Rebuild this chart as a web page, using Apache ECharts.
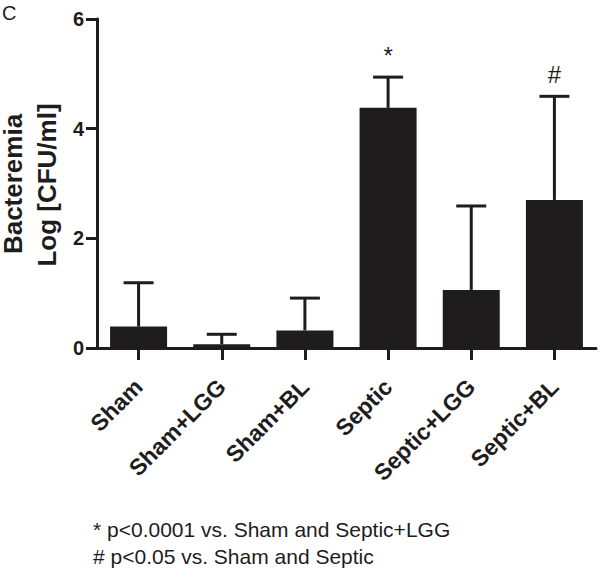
<!DOCTYPE html>
<html><head><meta charset="utf-8">
<script src="https://cdn.jsdelivr.net/npm/echarts@6/dist/echarts.min.js"></script>
<style>html,body{margin:0;padding:0;background:#fff}#c{width:600px;height:573px}</style>
</head><body><div id="c"></div>
<script>
const categories = ['Sham','Sham+LGG','Sham+BL','Septic','Septic+LGG','Septic+BL'];
const means = [0.39, 0.07, 0.32, 4.38, 1.06, 2.70];
const errTop = [1.19, 0.25, 0.91, 4.94, 2.59, 4.59];
const marks = ['', '', '', '*', '', '#'];
const yTicks = [0, 2, 4, 6];

const ink = '#1e1c1d';
const font = 'Liberation Sans, Arial, sans-serif';
const chart = echarts.init(document.getElementById('c'), null, {renderer:'svg'});
chart.setOption({
  animation: false,
  backgroundColor: '#fff',
  grid: {left: 97, right: 4, top: 19, bottom: 225, containLabel: false},
  xAxis: {
    type: 'category', data: categories,
    axisLine: {show: true, lineStyle: {color: ink, width: 3}},
    axisTick: {show: true, alignWithLabel: true, length: 12, lineStyle: {color: ink, width: 3}},
    axisLabel: {rotate: 45, color: ink, fontWeight: 'bold', fontSize: 23, fontFamily: font, margin: 35, interval: 0}
  },
  yAxis: {
    type: 'value', min: yTicks[0], max: yTicks[yTicks.length-1], interval: 2,
    splitLine: {show: false},
    axisLine: {show: true, lineStyle: {color: ink, width: 3}},
    axisTick: {show: true, length: 11, lineStyle: {color: ink, width: 3}},
    axisLabel: {color: ink, fontWeight: 'bold', fontSize: 20, fontFamily: font, margin: 13}
  },
  series: [
    {
      type: 'bar', data: means, barWidth: 57, z: 2,
      itemStyle: {color: ink}
    },
    {
      type: 'custom', z: 1, silent: true,
      data: categories.map((c, i) => [i, means[i], errTop[i]]),
      renderItem: function(params, api) {
        const base = api.coord([api.value(0), api.value(1)]);
        const top = api.coord([api.value(0), api.value(2)]);
        const x = base[0];
        const children = [
          {type: 'line', shape: {x1: x, y1: base[1], x2: x, y2: top[1]}, style: {stroke: ink, lineWidth: 3}},
          {type: 'line', shape: {x1: x - 15, y1: top[1], x2: x + 15, y2: top[1]}, style: {stroke: ink, lineWidth: 3}}
        ];
        const m = marks[params.dataIndex];
        if (m) {
          children.push({type: 'text', style: {text: m, x: x, y: top[1] - 10, textAlign: 'center', textVerticalAlign: 'bottom', fontSize: 24, fontFamily: font, fill: ink}});
        }
        return {type: 'group', children: children};
      }
    }
  ],
  graphic: [
    {type: 'text', left: 2, top: 3, style: {text: 'C', fontSize: 20, fontFamily: font, fill: ink}},
    {type: 'text', x: 13, y: 184, rotation: Math.PI/2, style: {text: 'Bacteremia', fontSize: 26, fontWeight: 'bold', fontFamily: font, fill: ink, textAlign: 'center', textVerticalAlign: 'middle'}},
    {type: 'text', x: 47, y: 185, rotation: Math.PI/2, style: {text: 'Log [CFU/ml]', fontSize: 26, fontWeight: 'bold', fontFamily: font, fill: ink, textAlign: 'center', textVerticalAlign: 'middle'}},
    {type: 'text', left: 93, top: 516, style: {text: '* p<0.0001 vs. Sham and Septic+LGG\n# p<0.05 vs. Sham and Septic', fontSize: 21, lineHeight: 27, fontFamily: font, fill: ink}}
  ]
});
</script></body></html>
